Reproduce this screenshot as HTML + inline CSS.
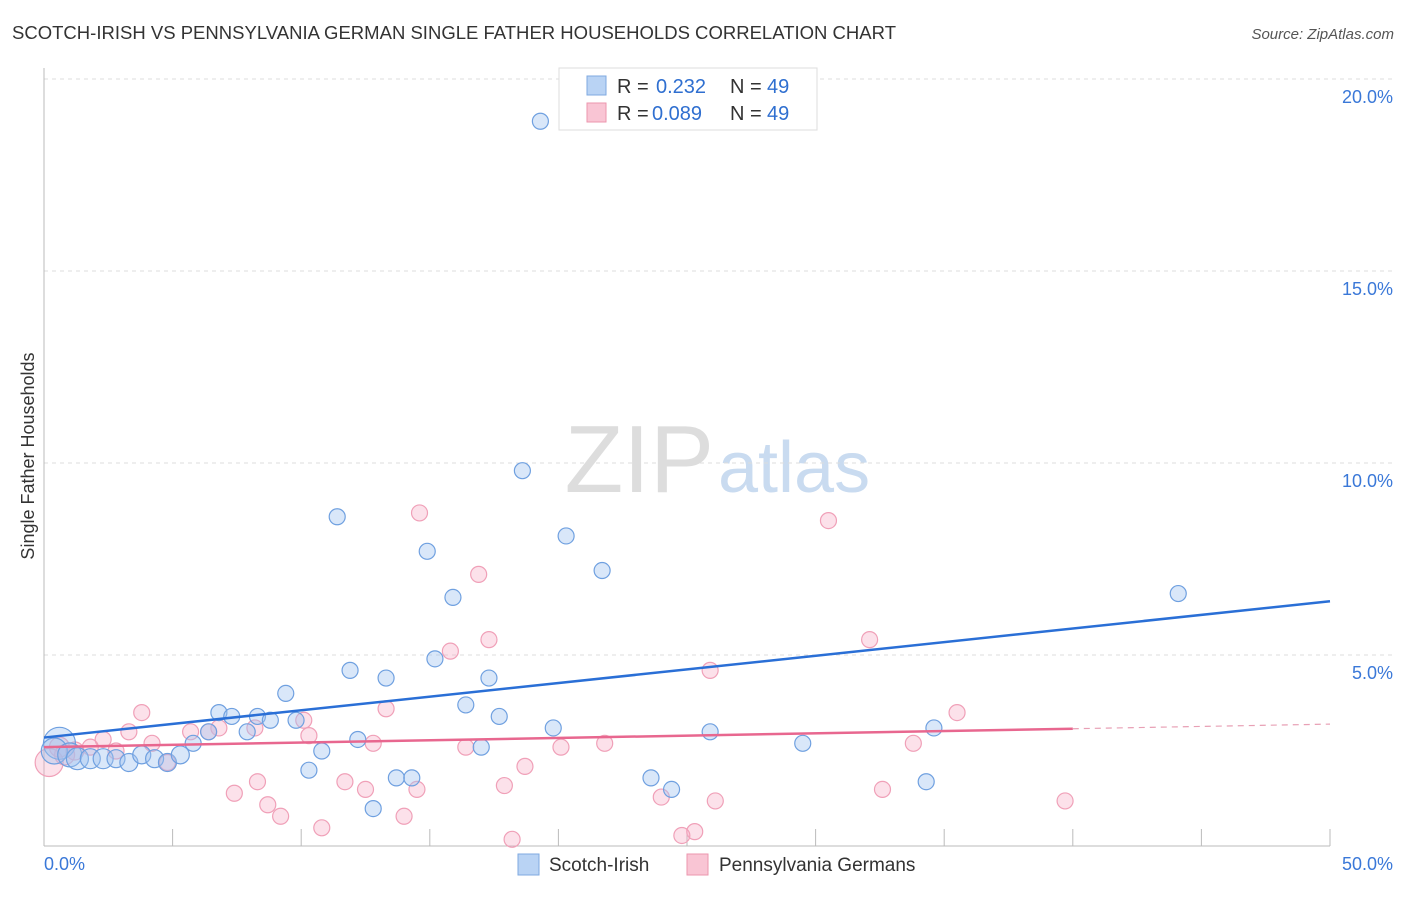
<!DOCTYPE html>
<html><head><meta charset="utf-8"><style>
body{margin:0;background:#fff;font-family:"Liberation Sans",sans-serif}
svg text{font-family:"Liberation Sans",sans-serif}
</style></head><body>
<svg width="1406" height="892">
<text x="12" y="39" font-size="18.5" fill="#333" textLength="884">SCOTCH-IRISH VS PENNSYLVANIA GERMAN SINGLE FATHER HOUSEHOLDS CORRELATION CHART</text>
<text x="1394" y="39" font-size="15" fill="#555" text-anchor="end" font-style="italic">Source: ZipAtlas.com</text>
<text x="714" y="492" font-size="96" fill="#ddd" text-anchor="end" font-family="Liberation Serif">ZIP</text>
<text x="718" y="492" font-size="72" fill="#c9dbf0">atlas</text>
<g id="grid"></g>
<line x1="44" y1="68" x2="44" y2="846" stroke="#bbb"/>
<line x1="44" y1="846" x2="1330" y2="846" stroke="#bbb"/>
<g id="xt"></g>
<text x="34" y="456" font-size="18" fill="#333" text-anchor="middle" transform="rotate(-90 34 456)">Single Father Households</text>
<g id="pts"></g>
<g id="lines"></g>
<g>
<rect x="559" y="68" width="258" height="62" fill="#fff" stroke="#ddd"/>
<rect x="587" y="76" width="19" height="19" fill="#b9d3f4" stroke="#7fa9e0"/>
<rect x="587" y="103" width="19" height="19" fill="#f9c5d4" stroke="#ec96ae"/>
<text x="617" y="93" font-size="20" fill="#333">R =</text>
<text x="656" y="93" font-size="20" fill="#2f6fd0">0.232</text>
<text x="730" y="93" font-size="20" fill="#333">N =</text>
<text x="767" y="93" font-size="20" fill="#2f6fd0">49</text>
<text x="617" y="120" font-size="20" fill="#333">R =</text>
<text x="652" y="120" font-size="20" fill="#2f6fd0">0.089</text>
<text x="730" y="120" font-size="20" fill="#333">N =</text>
<text x="767" y="120" font-size="20" fill="#2f6fd0">49</text>
</g>
<g>
<rect x="518" y="854" width="21" height="21" fill="#b9d3f4" stroke="#7fa9e0"/>
<text x="549" y="871" font-size="19" fill="#333">Scotch-Irish</text>
<rect x="687" y="854" width="21" height="21" fill="#f9c5d4" stroke="#ec96ae"/>
<text x="719" y="871" font-size="19" fill="#333">Pennsylvania Germans</text>
</g>
<text x="44" y="870" font-size="18" fill="#3a78d8">0.0%</text>
<text x="1393" y="870" font-size="18" fill="#3a78d8" text-anchor="end">50.0%</text>
</svg>
<script>
const yTicks=[5,10,15,20];
const yLabels=["5.0%","10.0%","15.0%","20.0%"];
const blueX=[19.3,18.6,11.4,20.3,14.9,21.7,15.9,44.1,15.2,11.9,13.3,17.3,9.4,6.8,8.3,16.4,7.3,8.8,9.8,17.7,7.9,19.8,34.6,25.9,6.4,12.2,5.8,29.5,17.0,10.8,0.6,0.4,1.0,1.3,1.8,2.3,2.8,3.3,3.8,4.3,4.8,5.3,10.3,13.7,14.3,23.6,34.3,24.4,12.8];
const blueY=[18.9,9.8,8.6,8.1,7.7,7.2,6.5,6.6,4.9,4.6,4.4,4.4,4.0,3.5,3.4,3.7,3.4,3.3,3.3,3.4,3.0,3.1,3.1,3.0,3.0,2.8,2.7,2.7,2.6,2.5,2.7,2.5,2.4,2.3,2.3,2.3,2.3,2.2,2.4,2.3,2.2,2.4,2.0,1.8,1.8,1.8,1.7,1.5,1.0];
const blueR=[8,8,8,8,8,8,8,8,8,8,8,8,8,8,8,8,8,8,8,8,8,8,8,8,8,8,8,8,8,8,16,13,12,11,10,10,9,9,9,9,9,9,8,8,8,8,8,8,8];
const pinkX=[14.6,30.5,16.9,17.3,32.1,15.8,25.9,3.8,13.3,35.5,3.3,6.8,10.1,5.7,6.4,10.3,2.3,4.2,8.2,12.8,33.8,21.8,16.4,20.1,2.8,1.8,0.6,0.8,0.2,18.7,4.8,11.7,8.3,12.5,7.4,17.9,14.5,32.6,24.0,26.1,39.7,8.7,9.2,14.0,10.8,18.2,25.3,24.8,1.2];
const pinkY=[8.7,8.5,7.1,5.4,5.4,5.1,4.6,3.5,3.6,3.5,3.0,3.1,3.3,3.0,3.0,2.9,2.8,2.7,3.1,2.7,2.7,2.7,2.6,2.6,2.5,2.6,2.6,2.4,2.2,2.1,2.2,1.7,1.7,1.5,1.4,1.6,1.5,1.5,1.3,1.2,1.2,1.1,0.8,0.8,0.5,0.2,0.4,0.3,2.5];
const pinkR=[8,8,8,8,8,8,8,8,8,8,8,8,8,8,8,8,8,8,8,8,8,8,8,8,8,8,10,10,14,8,8,8,8,8,8,8,8,8,8,8,8,8,8,8,8,8,8,8,9];
const blueTrend=[2.85,6.4], pinkTrend=[2.6,3.2];
const NS="http://www.w3.org/2000/svg";
const X=v=>44+v/50*1286, Y=v=>847-v/5*192;
function mk(t,a,p){const e=document.createElementNS(NS,t);for(const k in a)e.setAttribute(k,a[k]);p.appendChild(e);return e;}
const g=document.getElementById('grid');
yTicks.forEach((t,i)=>{
 const l=mk('line',{x1:44,x2:1394,y1:Y(t),y2:Y(t),stroke:'#ddd','stroke-dasharray':'4,4'},g);
 
 
 const tx=mk('text',{x:1393,y:Y(t)+24,'font-size':18,fill:'#3a78d8','text-anchor':'end'},g);
 tx.textContent=yLabels[i];
 
 
});
const xt=document.getElementById('xt');
for(let i=1;i<=10;i++){const l=mk('line',{x1:X(i*5),x2:X(i*5),y1:829,y2:846,stroke:'#bbb'},xt);
 
 }
const pts=document.getElementById('pts');
pinkX.forEach((x,i)=>{const c=mk('circle',{cx:X(x),cy:Y(pinkY[i]),r:pinkR[i],fill:'rgba(246,170,195,0.35)',stroke:'#f0a0b8','stroke-width':1.2},pts);
 
 });
blueX.forEach((x,i)=>{const c=mk('circle',{cx:X(x),cy:Y(blueY[i]),r:blueR[i],fill:'rgba(160,195,240,0.4)',stroke:'#6fa0e0','stroke-width':1.2},pts);
 
 });
const ln=document.getElementById('lines');
let b=mk('line',{x1:X(0),y1:Y(blueTrend[0]),x2:X(50),y2:Y(blueTrend[1]),stroke:'#2a6fd6','stroke-width':2.5},ln);


const pAt=v=>pinkTrend[0]+(pinkTrend[1]-pinkTrend[0])*v/50;
let p=mk('line',{x1:X(0),y1:Y(pAt(0)),x2:X(40),y2:Y(pAt(40)),stroke:'#e8678f','stroke-width':2.5},ln);


let pd=mk('line',{x1:X(40),y1:Y(pAt(40)),x2:X(50),y2:Y(pAt(50)),stroke:'#e8a0b5','stroke-width':1.2,'stroke-dasharray':'6,5'},ln);


</script>
</body></html>
